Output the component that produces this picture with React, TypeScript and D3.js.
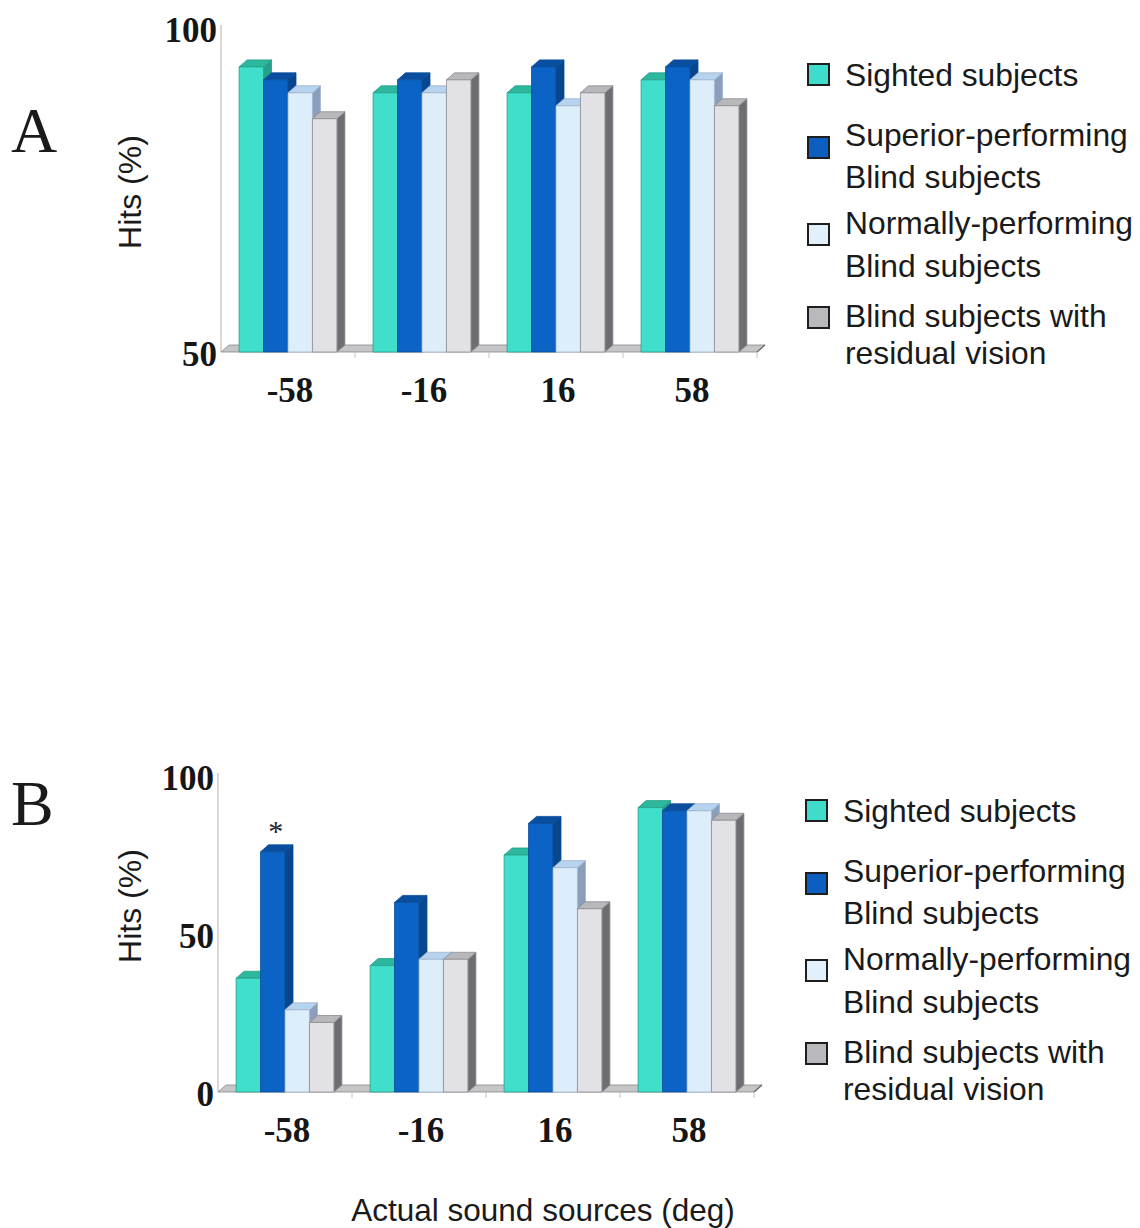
import React from "react";
import * as d3 from "d3";

// Sound-source positions (deg) and the four subject groups
const categories = ["-58", "-16", "16", "58"];
const seriesKeys = ["sighted", "superior", "normal", "residual"];

// Panel A — hits (%), one value per sound source
const sightedA = [94, 90, 90, 92];
const superiorA = [92, 92, 94, 94];
const normalA = [90, 90, 88, 92];
const residualA = [86, 92, 90, 88];

// Panel B — hits (%), one value per sound source
const sightedB = [36, 40, 75, 90];
const superiorB = [76, 60, 85, 89];
const normalB = [26, 42, 71, 89];
const residualB = [22, 42, 58, 86];

const ticksA = [50, 100];
const ticksB = [0, 50, 100];

const legendLabels = [
  ["Sighted subjects"],
  ["Superior-performing", "Blind subjects"],
  ["Normally-performing", "Blind subjects"],
  ["Blind subjects with", "residual vision"],
];

// Face shades for the extruded bars: front, top, side
const palette: Record<string, { front: string; top: string; side: string; edge: string; key: string }> = {
  sighted: { front: "#3fdfcc", top: "#2bb89e", side: "#26a08a", edge: "#2a9c88", key: "#3fdccb" },
  superior: { front: "#0b63c5", top: "#0a4f9f", side: "#08468d", edge: "#094d98", key: "#0c5fc0" },
  normal: { front: "#ddeefa", top: "#b6d3ef", side: "#8b9fbd", edge: "#9fb4cc", key: "#e2f0fb" },
  residual: { front: "#e2e2e6", top: "#b8b8bc", side: "#6e6e72", edge: "#8c8c90", key: "#b8b8bd" },
};

const DX = 8;
const DY = 7;

const tickFont = "'Liberation Serif', 'Times New Roman', serif";
const sansFont = "'Liberation Sans', Arial, sans-serif";

type PanelProps = {
  series: number[][];
  domain: [number, number];
  ticks: number[];
  x0: number;
  x1: number;
  yTop: number;
  yBase: number;
  letter: string;
  letterY: number;
  titleY: number;
  starIndex?: number;
  legendX: number;
  legendY: number;
};

function Bar3D({ x, w, yt, yb, c }: { x: number; w: number; yt: number; yb: number; c: typeof palette.sighted }) {
  const top = `${x},${yt} ${x + DX},${yt - DY} ${x + w + DX},${yt - DY} ${x + w},${yt}`;
  const side = `${x + w},${yt} ${x + w + DX},${yt - DY} ${x + w + DX},${yb - DY} ${x + w},${yb}`;
  return (
    <g strokeWidth={0.8} stroke={c.edge} strokeLinejoin="round">
      <polygon points={side} fill={c.side} />
      <polygon points={top} fill={c.top} />
      <rect x={x} y={yt} width={w} height={yb - yt} fill={c.front} />
    </g>
  );
}

function Panel(p: PanelProps) {
  const y = d3.scaleLinear().domain(p.domain).range([p.yBase, p.yTop]);
  const xGroup = d3.scaleBand<string>().domain(categories).range([p.x0, p.x1]).paddingInner(0.27).paddingOuter(0.135);
  const xSeries = d3.scaleBand<string>().domain(seriesKeys).range([0, xGroup.bandwidth()]);
  const step = xGroup.step();
  const boundaries = d3.range(categories.length).map((i) => p.x0 + step * (i + 1));
  const floor = `${p.x0},${p.yBase} ${p.x0 + DX},${p.yBase - DY} ${p.x1 + DX},${p.yBase - DY} ${p.x1},${p.yBase}`;

  return (
    <g>
      {/* panel letter */}
      <text x={11} y={p.letterY} fontFamily={tickFont} fontSize={64} fill="#1a1a1a">
        {p.letter}
      </text>

      {/* y-axis title */}
      <text
        transform={`translate(141, ${p.titleY}) rotate(-90)`}
        textAnchor="middle"
        fontFamily={sansFont}
        fontSize={32}
        fill="#1a1a1a"
      >
        Hits (%)
      </text>

      {/* value axis line */}
      <line x1={p.x0} x2={p.x0} y1={y(p.domain[1]) - 3} y2={p.yBase} stroke="#d3c8c3" strokeWidth={1.5} />

      {/* y tick labels */}
      {p.ticks.map((t) => (
        <text
          key={t}
          x={p.x0 - 4}
          y={y(t) + 14}
          textAnchor="end"
          fontFamily={tickFont}
          fontWeight="bold"
          fontSize={35}
          fill="#161616"
        >
          {t}
        </text>
      ))}

      {/* floor slab */}
      <polygon points={floor} fill="#c6c6c8" stroke="#88888b" strokeWidth={0.8} />
      <line x1={p.x1} y1={p.yBase} x2={p.x1 + DX} y2={p.yBase - DY} stroke="#6e6e72" strokeWidth={1.5} />
      {boundaries.map((bx) => (
        <line key={bx} x1={bx} x2={bx} y1={p.yBase} y2={p.yBase + 6} stroke="#c4c4c4" strokeWidth={1} />
      ))}

      {/* bars */}
      {categories.map((cat, ci) => (
        <g key={cat}>
          {seriesKeys.map((s, si) => {
            const v = p.series[si][ci];
            const bx = (xGroup(cat) as number) + (xSeries(s) as number);
            return <Bar3D key={s} x={bx} w={xSeries.bandwidth()} yt={y(v)} yb={p.yBase} c={palette[s]} />;
          })}
        </g>
      ))}

      {/* significance marker */}
      {p.starIndex !== undefined && (
        <text
          x={(xGroup(categories[p.starIndex]) as number) + (xSeries("superior") as number) + xSeries.bandwidth() / 2 + 3}
          y={y(p.series[1][p.starIndex]) - 11}
          textAnchor="middle"
          fontFamily={tickFont}
          fontSize={30}
          fill="#222"
        >
          *
        </text>
      )}

      {/* category labels */}
      {categories.map((cat) => (
        <text
          key={cat}
          x={(xGroup(cat) as number) + xGroup.bandwidth() / 2 + 2}
          y={p.yBase + 50}
          textAnchor="middle"
          fontFamily={tickFont}
          fontWeight="bold"
          fontSize={35}
          fill="#161616"
        >
          {cat}
        </text>
      ))}

      {/* legend */}
      <Legend x={p.legendX} y={p.legendY} />
    </g>
  );
}

// Legend rows: baselines relative to first row
const legendRows = [
  { key: "sighted", box: -22, lines: [0] },
  { key: "superior", box: 51, lines: [60, 102] },
  { key: "normal", box: 138, lines: [148, 191] },
  { key: "residual", box: 221, lines: [241, 278] },
];

function Legend({ x, y }: { x: number; y: number }) {
  return (
    <g>
      {legendRows.map((r, i) => (
        <g key={r.key}>
          <rect x={x} y={y + r.box} width={21} height={21} fill={palette[r.key].key} stroke="#1e1e1e" strokeWidth={2} />
          {legendLabels[i].map((line, li) => (
            <text
              key={li}
              x={x + 37}
              y={y + r.lines[li]}
              fontFamily={sansFont}
              fontSize={31.8}
              fill="#1a1a1a"
            >
              {line}
            </text>
          ))}
        </g>
      ))}
    </g>
  );
}

export default function App() {
  return (
    <svg
      width={1140}
      height={1228}
      viewBox="0 0 1140 1228"
      style={{ position: "absolute", left: 0, top: 0, background: "#ffffff" }}
    >
      <rect width={1140} height={1228} fill="#ffffff" />
      <Panel
        series={[sightedA, superiorA, normalA, residualA]}
        domain={[50, 100]}
        ticks={ticksA}
        x0={221}
        x1={757}
        yTop={28}
        yBase={352}
        letter="A"
        letterY={152}
        titleY={192}
        legendX={808}
        legendY={86}
      />
      <Panel
        series={[sightedB, superiorB, normalB, residualB]}
        domain={[0, 100]}
        ticks={ticksB}
        x0={218}
        x1={754}
        yTop={776}
        yBase={1092}
        letter="B"
        letterY={825}
        titleY={906}
        starIndex={0}
        legendX={806}
        legendY={822}
      />
      <text x={543} y={1221} textAnchor="middle" fontFamily={sansFont} fontSize={31.5} fill="#1a1a1a">
        Actual sound sources (deg)
      </text>
    </svg>
  );
}
